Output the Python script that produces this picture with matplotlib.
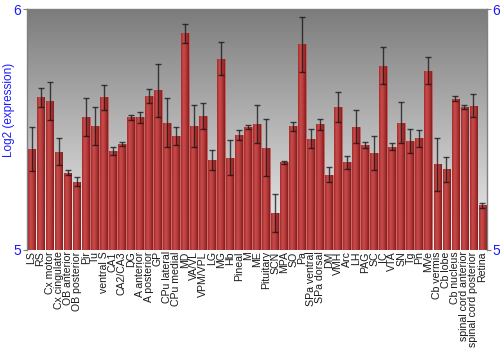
import numpy as np
import matplotlib
matplotlib.use("Agg")
import matplotlib.pyplot as plt
from matplotlib.colors import LinearSegmentedColormap

regions = [
    "LS", "RS", "Cx motor", "Cx cingulate", "OB anterior", "OB posterior",
    "Pir", "Tu", "ventral S", "CA1", "CA2/CA3", "DG", "A anterior",
    "A posterior", "GP", "CPu lateral", "CPu medial", "MD", "VA/VL",
    "VPM/VPL", "LG", "MG", "Hb", "Pineal", "M", "ME", "Pituitary", "SCN",
    "MPA", "SO", "Pa", "SPa ventral", "SPa dorsal", "DM", "VMH", "Arc", "LH",
    "PAG", "SC", "IC", "VTA", "SN", "Tg", "Pn", "MVe", "Cb vermis", "Cb lobe",
    "Cb nucleus", "spinal cord anterior", "spinal cord posterior", "Retina",
]
expression = [
    5.419, 5.633, 5.619, 5.407, 5.321, 5.284, 5.550, 5.516, 5.633, 5.410,
    5.439, 5.550, 5.550, 5.639, 5.662, 5.528, 5.474, 5.899, 5.514, 5.556,
    5.374, 5.794, 5.383, 5.477, 5.512, 5.521, 5.425, 5.154, 5.363, 5.513,
    5.854, 5.462, 5.521, 5.313, 5.594, 5.363, 5.512, 5.436, 5.403, 5.764,
    5.428, 5.528, 5.451, 5.463, 5.745, 5.356, 5.335, 5.628, 5.594, 5.599,
    5.185,
]
errors = [
    0.093, 0.041, 0.080, 0.056, 0.012, 0.018, 0.079, 0.079, 0.050, 0.016,
    0.009, 0.010, 0.021, 0.028, 0.110, 0.102, 0.037, 0.041, 0.088, 0.055,
    0.041, 0.069, 0.074, 0.019, 0.008, 0.079, 0.120, 0.079, 0.007, 0.020,
    0.115, 0.039, 0.021, 0.032, 0.062, 0.027, 0.067, 0.012, 0.070, 0.077,
    0.014, 0.085, 0.050, 0.034, 0.055, 0.110, 0.052, 0.010, 0.008, 0.048,
    0.011,
]

BLUE = "#1a1aff"
AXIS_GRAY = "#808080"


def main():
    fig = plt.figure(figsize=(5, 3.5), dpi=100)
    ax = fig.add_axes([0.054, 0.286, 0.920, 0.688])
    x = np.arange(len(regions))
    ax.set_xlim(-0.5, len(regions) - 0.5)
    ax.set_ylim(5, 6)

    # background gradient, light at top, darker at bottom
    bg = np.linspace(0, 1, 256).reshape(-1, 1)
    bg_cmap = LinearSegmentedColormap.from_list("bg", ["#f2f2f2", "#7c7c7c"])
    ax.imshow(bg, aspect="auto", cmap=bg_cmap, extent=[0, 1, 1, 0],
              transform=ax.transAxes, zorder=0)

    bars = ax.bar(x, np.array(expression) - 5, bottom=5, width=0.86,
                  color="#b03535", edgecolor="#c86060", linewidth=0.5, zorder=2)

    # horizontal shading across each bar
    shade = np.linspace(0, 1, 64).reshape(1, -1)
    bar_cmap = LinearSegmentedColormap.from_list(
        "bar", ["#a52c2c", "#c94c4c", "#b23838", "#861c1c"])
    for bar in bars:
        x0, y0 = bar.get_x(), bar.get_y()
        im = ax.imshow(shade, aspect="auto", cmap=bar_cmap,
                       extent=[x0, x0 + bar.get_width(), y0, y0 + bar.get_height()],
                       zorder=2.5)
        im.set_clip_path(bar)

    ax.errorbar(x, expression, yerr=errors, fmt="none", ecolor="#111111",
                elinewidth=1.0, capsize=2, capthick=1.0, alpha=0.75, zorder=3)

    ax.set_xticks(x)
    ax.set_xticklabels(regions, rotation=90, fontsize=7.6,
                       family="Liberation Sans", color="#1a1a1a")
    ax.tick_params(axis="x", length=0, pad=1)

    ax.set_yticks([5, 6])
    ax.tick_params(axis="y", length=3, color=AXIS_GRAY, labelsize=10,
                   labelcolor=BLUE, labelright=True, right=True, pad=1)
    for label in ax.get_yticklabels():
        label.set_family("Liberation Sans")

    ax.set_ylabel("Log2 (expression)", color=BLUE, fontsize=8.5,
                  family="Liberation Sans")
    ax.yaxis.set_label_coords(-0.026, 0.58)

    for side in ["left", "right", "top"]:
        ax.spines[side].set_color(AXIS_GRAY)
        ax.spines[side].set_linewidth(1.0)
    ax.spines["bottom"].set_visible(False)

    fig.savefig("out.png", dpi=100, facecolor="white")
    plt.close(fig)


if __name__ == "__main__":
    main()
